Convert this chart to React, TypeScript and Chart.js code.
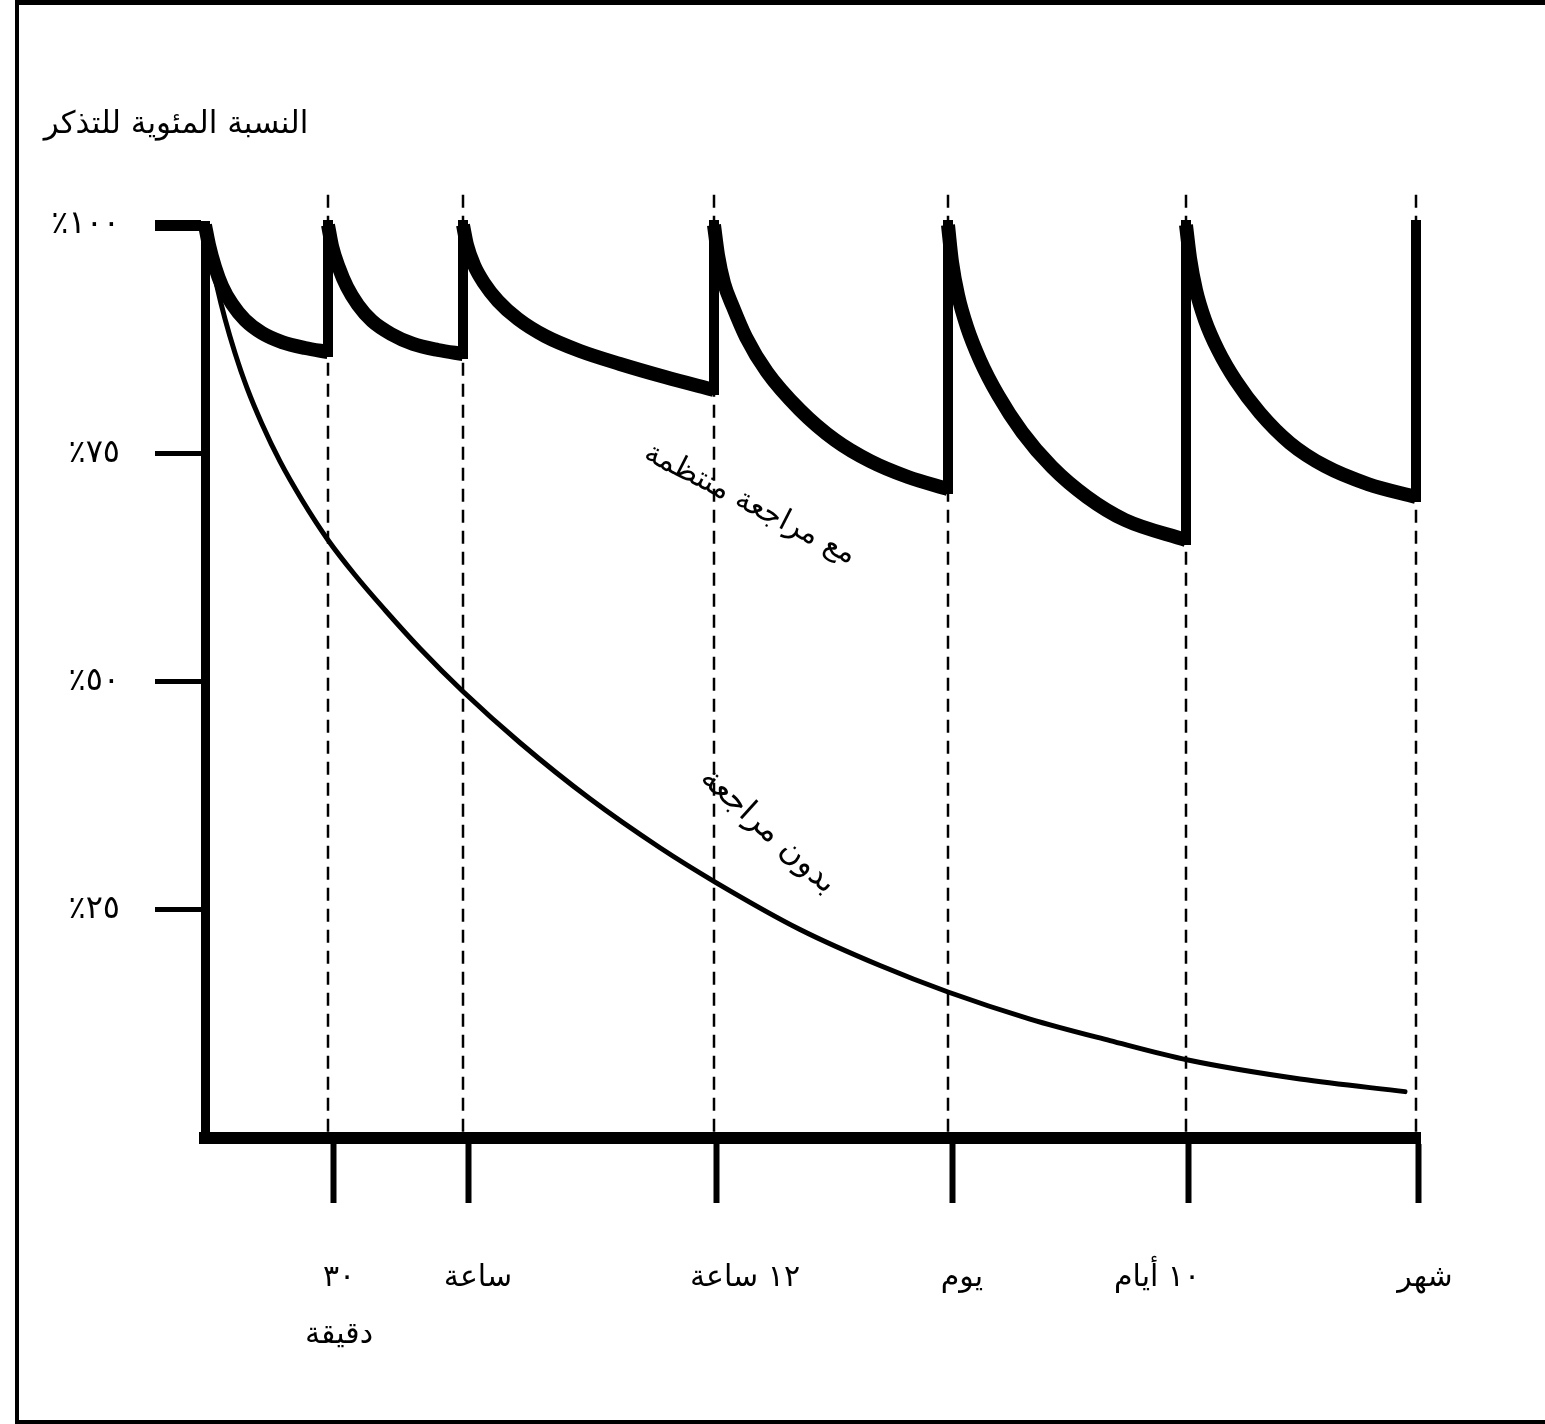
import { useEffect, useRef } from 'react';
import { Chart, registerables } from 'chart.js';

Chart.register(...registerables);

const FONT = '"DejaVu Sans", sans-serif';

// ---- axis ticks ----
const yTickValues = [25, 50, 75, 100];
const yTickLabels = ['٢٥٪', '٥٠٪', '٧٥٪', '١٠٠٪'];
const xTickValues = [12.8, 26.3, 51.1, 74.7, 98.3, 121.3];
const xTickLabels: string[][] = [['٣٠', 'دقيقة'], ['ساعة'], ['١٢ ساعة'], ['يوم'], ['١٠ أيام'], ['شهر']];

// ---- review moments (vertical dashed lines / jumps) ----
const reviewTimes = [12.3, 25.8, 50.9, 74.3, 98.1, 121.1];

// ---- with regular review (bold saw-tooth curve), one decay segment per interval ----
const seg1X = [0, 0.4, 1.0, 1.7, 2.7, 4.0, 5.7, 7.7, 10.0, 12.3];
const seg1Y = [100, 97.81, 95.4, 93.32, 91.35, 89.59, 88.17, 87.18, 86.53, 86.09];
const seg2X = [12.3, 12.7, 13.4, 14.2, 15.3, 16.7, 18.6, 20.8, 23.3, 25.8];
const seg2Y = [100, 97.7, 95.29, 93.21, 91.24, 89.49, 88.06, 86.97, 86.31, 85.87];
const seg3X = [25.8, 26.2, 26.9, 27.9, 29.3, 31.3, 34.0, 37.5, 41.5, 46.0, 50.9];
const seg3Y = [100, 97.81, 95.62, 93.65, 91.68, 89.7, 87.84, 86.2, 84.78, 83.35, 81.93];
const seg4X = [50.9, 51.3, 51.9, 52.8, 54.1, 56.2, 59.5, 63.0, 66.5, 70.3, 74.3];
const seg4Y = [100, 96.71, 93.65, 91.02, 87.73, 83.9, 79.74, 76.45, 74.15, 72.4, 71.08];
const seg5X = [74.3, 74.7, 75.3, 76.2, 77.5, 79.3, 81.7, 84.7, 88.2, 92.0, 98.1];
const seg5Y = [100, 95.95, 92.33, 88.83, 85.21, 81.38, 77.33, 73.49, 70.21, 67.69, 65.5];
const seg6X = [98.1, 98.5, 99.1, 100.0, 101.3, 103.1, 105.5, 108.5, 112.0, 116.3, 121.1];
const seg6Y = [100, 96.39, 92.88, 89.59, 86.31, 82.91, 79.41, 76.12, 73.6, 71.63, 70.21];

// ---- without review (thin forgetting curve) ----
const noReviewX = [0, 0.5, 1.2, 2.0, 3.0, 4.2, 5.7, 7.5, 9.7, 12.3, 15.0, 18.0, 21.5, 25.8, 31.5, 38.5, 45.5, 51.1, 59.5, 67.5, 74.3, 82.5, 90.5, 98.3, 109.5, 120.0];
const noReviewY = [100, 96.88, 93.25, 89.71, 85.98, 82.15, 78.2, 74.1, 69.88, 65.5, 61.66, 57.83, 53.61, 48.9, 43.29, 37.15, 31.79, 27.98, 22.84, 18.89, 15.99, 13.03, 10.67, 8.54, 6.46, 5.08];

// ---- texts ----
const yAxisTitle = 'النسبة المئوية للتذكر';
const curveLabels = [
  { text: 'مع مراجعة منتظمة', x: 54.5, y: 69.4, angle: 27, size: 30 },
  { text: 'بدون مراجعة', x: 56.3, y: 33.6, angle: 42, size: 32 },
];

// ---- styling: horizontal nudge (px) of each x label relative to its tick ----
const xLabelShift = [6, 10, 29, 10, -31, 7];

const segmentsX = [seg1X, seg2X, seg3X, seg4X, seg5X, seg6X];
const segmentsY = [seg1Y, seg2Y, seg3Y, seg4Y, seg5Y, seg6Y];

function pts(xs: number[], ys: number[]) {
  return xs.map((x, i) => ({ x, y: ys[i] }));
}

export default function App() {
  const ref = useRef<HTMLCanvasElement | null>(null);

  useEffect(() => {
    document.body.style.margin = '0';
    const canvas = ref.current;
    if (!canvas) return;

    const datasets: any[] = [];
    const common = {
      pointRadius: 0,
      pointHoverRadius: 0,
      fill: false,
      clip: false as any,
      borderColor: '#000',
    };

    // thin curve
    datasets.push({
      ...common,
      data: pts(noReviewX, noReviewY),
      borderWidth: 5,
      cubicInterpolationMode: 'monotone',
      borderCapStyle: 'round',
      order: 1,
    });

    // bold decay segments
    segmentsX.forEach((xs, i) => {
      datasets.push({
        ...common,
        data: pts(xs, segmentsY[i]),
        borderWidth: 14,
        cubicInterpolationMode: 'monotone',
        order: 0,
      });
    });

    // bold vertical jumps at each review
    reviewTimes.forEach((r, i) => {
      const ys = segmentsY[i];
      datasets.push({
        ...common,
        data: [
          { x: r, y: ys[ys.length - 1] },
          { x: r, y: 100 },
        ],
        borderWidth: 10,
        borderCapStyle: 'square',
        order: 0,
      });
    });

    // dashed guide lines
    reviewTimes.forEach((r) => {
      datasets.push({
        ...common,
        data: [
          { x: r, y: 103.3 },
          { x: r, y: 0 },
        ],
        borderWidth: 2.5,
        borderDash: [13, 8],
        order: 5,
      });
    });

    const decor = {
      id: 'decor',
      afterDatasetsDraw(chart: any) {
        const { ctx, scales } = chart;
        const xs = scales.x;
        const ys = scales.y;
        ctx.save();
        ctx.fillStyle = '#000';
        ctx.textAlign = 'center';
        ctx.textBaseline = 'middle';
        curveLabels.forEach((l) => {
          ctx.save();
          ctx.font = `${l.size}px ${FONT}`;
          ctx.translate(xs.getPixelForValue(l.x), ys.getPixelForValue(l.y));
          ctx.rotate((l.angle * Math.PI) / 180);
          ctx.fillText(l.text, 0, 0);
          ctx.restore();
        });
        ctx.restore();
      },
      afterDraw(chart: any) {
        const { ctx, width, height, scales } = chart;
        const xs = scales.x;
        ctx.save();
        ctx.fillStyle = '#000';
        // frame
        ctx.fillRect(15, 0, width - 15, 5);
        ctx.fillRect(15, 0, 4, height);
        ctx.fillRect(15, height - 4, width - 15, 4);
        // y-axis title
        ctx.font = `31px ${FONT}`;
        ctx.textAlign = 'center';
        ctx.textBaseline = 'middle';
        ctx.fillText(yAxisTitle, 176, 125);
        // x tick labels, positioned from the x scale
        ctx.font = `30px ${FONT}`;
        const firstLineY = xs.top + 140;
        const lineGap = 57;
        xTickValues.forEach((v, i) => {
          const px = xs.getPixelForValue(v) + xLabelShift[i];
          xTickLabels[i].forEach((line, j) => {
            ctx.fillText(line, px, firstLineY + j * lineGap);
          });
        });
        ctx.restore();
      },
    };

    const chart = new Chart(canvas, {
      type: 'line',
      data: { datasets },
      options: {
        animation: false,
        responsive: false,
        devicePixelRatio: 1,
        events: [],
        layout: { padding: { top: 225, right: 125, bottom: 0, left: 0 } },
        plugins: {
          legend: { display: false },
          tooltip: { enabled: false },
          title: { display: false },
        },
        scales: {
          x: {
            type: 'linear',
            min: 0,
            max: 121.5,
            afterFit: (s: any) => {
              s.height = 286;
            },
            afterBuildTicks: (s: any) => {
              s.ticks = xTickValues.map((v) => ({ value: v }));
            },
            border: { display: true, width: 12, color: '#000' },
            grid: {
              display: true,
              drawOnChartArea: false,
              drawTicks: true,
              tickLength: 65,
              tickWidth: 6,
              tickColor: '#000',
              color: '#000',
            },
            ticks: {
              display: false,
              autoSkip: false,
              maxRotation: 0,
            },
          },
          y: {
            type: 'linear',
            min: 0,
            max: 100,
            afterFit: (s: any) => {
              s.width = 205;
            },
            afterBuildTicks: (s: any) => {
              s.ticks = yTickValues.map((v) => ({ value: v }));
            },
            border: { display: true, width: 9, color: '#000' },
            grid: {
              display: true,
              drawOnChartArea: false,
              drawTicks: true,
              tickLength: 50,
              tickWidth: (c: any) => (c.tick && c.tick.value === 100 ? 11 : 5),
              tickColor: '#000',
              color: '#000',
            },
            ticks: {
              color: '#000',
              padding: 35,
              autoSkip: false,
              font: { family: FONT, size: 32 },
              callback: (_v: any, i: number) => yTickLabels[i],
            },
          },
        },
      },
      plugins: [decor],
    } as any);

    return () => {
      chart.destroy();
    };
  }, []);

  return <canvas ref={ref} width={1545} height={1424} dir="rtl" style={{ display: 'block' }} />;
}
